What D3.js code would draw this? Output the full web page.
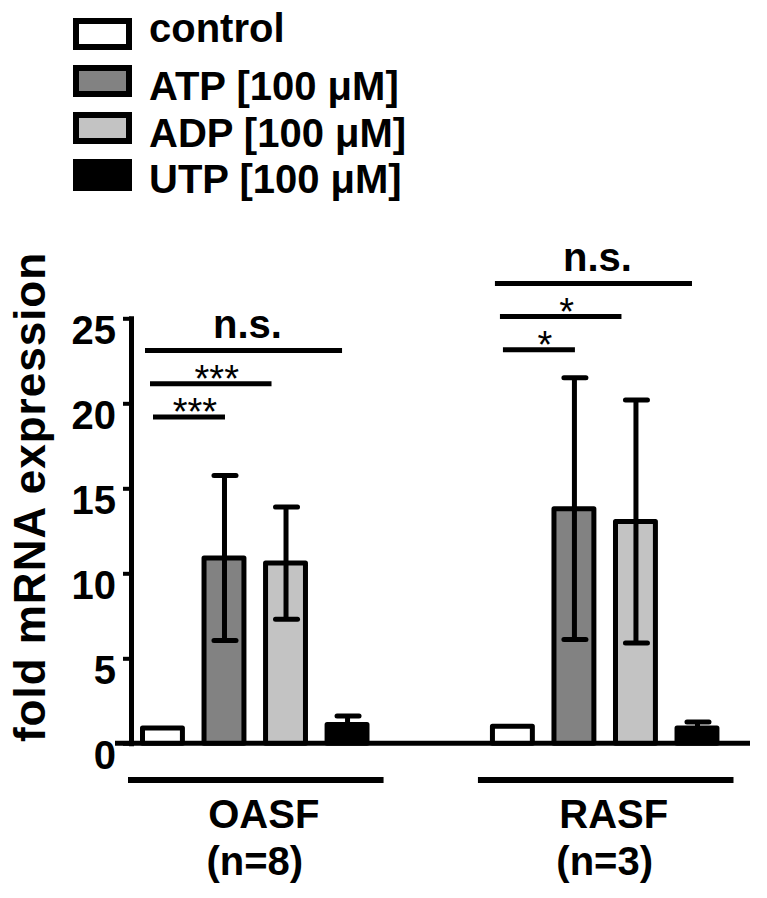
<!DOCTYPE html>
<html>
<head>
<meta charset="utf-8">
<script src="https://cdn.jsdelivr.net/npm/d3@7/dist/d3.min.js"></script>
<style>
  html, body { margin: 0; padding: 0; background: #fff; }
  svg { display: block; }
  text { font-family: "Liberation Sans", Arial, Helvetica, sans-serif; fill: #000; }
</style>
</head>
<body>
<svg id="chart" width="767" height="898"></svg>
<script>
// ---------------- data ----------------
const groups = ["OASF", "RASF"];
const groupN = ["(n=8)", "(n=3)"];
const series = ["control", "ATP [100 μM]", "ADP [100 μM]", "UTP [100 μM]"];
const seriesFill = ["#ffffff", "#828282", "#c3c3c3", "#000000"];
const oasfMeans = [0.9, 10.9, 10.6, 1.1];
const oasfErrors = [0, 4.85, 3.3, 0.5];
const rasfMeans = [1.0, 13.8, 13.05, 0.9];
const rasfErrors = [0, 7.7, 7.15, 0.35];
const yTicks = [0, 5, 10, 15, 20, 25];
const yLabel = "fold mRNA expression";
// significance: control vs target series
const sigTargets = ["UTP [100 μM]", "ADP [100 μM]", "ATP [100 μM]"];
const oasfSig = ["n.s.", "***", "***"];
const rasfSig = ["n.s.", "*", "*"];

// ---------------- layout ----------------
const svg = d3.select("#chart");
const FONT = 40;
const y = d3.scaleLinear().domain([0, 25]).range([743.3, 318.3]);
const x0 = d3.scaleBand().domain(groups).range([140, 719.5]).paddingInner(0.344).paddingOuter(0);
const x1 = d3.scaleBand().domain(series).range([0, 229.5]).paddingInner(0.27).paddingOuter(0);
const BW = x1.bandwidth();
const SW = 5;

const table = groups.map((g, gi) => ({
  group: g,
  n: groupN[gi],
  values: series.map((s, si) => ({
    series: s,
    fill: seriesFill[si],
    mean: gi === 0 ? oasfMeans[si] : rasfMeans[si],
    err: gi === 0 ? oasfErrors[si] : rasfErrors[si]
  })),
  sig: (gi === 0 ? oasfSig : rasfSig).map((lab, k) => ({ target: sigTargets[k], label: lab, k }))
}));

// ---------------- legend ----------------
const legend = svg.append("g");
const legDy = [8, 19, 19, 18];
series.forEach((s, i) => {
  const cy = 34 + 47 * i;
  legend.append("rect")
    .attr("x", 76).attr("y", cy - 13).attr("width", 53).attr("height", 26)
    .attr("fill", seriesFill[i]).attr("stroke", "#000").attr("stroke-width", 6);
  legend.append("text")
    .attr("x", 149).attr("y", cy + legDy[i])
    .attr("font-size", FONT).attr("font-weight", "bold")
    .text(s);
});

// ---------------- y axis ----------------
const yAxis = d3.axisLeft(y).tickValues(yTicks).tickSize(8).tickSizeOuter(0).tickPadding(7)
  .tickFormat(d3.format("d"));
const gy = svg.append("g").attr("transform", "translate(131,0)").call(yAxis);
gy.select(".domain").attr("stroke", "#000").attr("stroke-width", SW).attr("stroke-linecap", "square");
gy.selectAll(".tick line").attr("stroke", "#000").attr("stroke-width", 4);
gy.selectAll(".tick text")
  .attr("font-size", FONT).attr("font-weight", "bold").attr("fill", "#000")
  .attr("font-family", "Liberation Sans, Arial, sans-serif")
  .attr("dy", null).attr("y", 25);

svg.append("text")
  .attr("transform", `translate(45,${(250 + 744) / 2}) rotate(-90)`)
  .attr("text-anchor", "middle")
  .attr("font-size", 44).attr("font-weight", "bold")
  .attr("letter-spacing", 1)
  .text(yLabel);

// ---------------- x axis line ----------------
svg.append("line")
  .attr("x1", 115).attr("x2", 750).attr("y1", y(0)).attr("y2", y(0))
  .attr("stroke", "#000").attr("stroke-width", SW);

// ---------------- bars ----------------
const gGroups = svg.selectAll("g.grp").data(table).join("g")
  .attr("class", "grp")
  .attr("transform", d => `translate(${x0(d.group)},0)`);

gGroups.selectAll("rect.bar").data(d => d.values).join("rect")
  .attr("class", "bar")
  .attr("x", d => x1(d.series) + SW / 2)
  .attr("width", BW - SW)
  .attr("y", d => y(d.mean))
  .attr("height", d => y(0) - y(d.mean))
  .attr("fill", d => d.fill)
  .attr("stroke", "#000").attr("stroke-width", SW).attr("stroke-linejoin", "round");

// error bars
const eb = gGroups.selectAll("g.err").data(d => d.values.filter(v => v.err > 0)).join("g").attr("class", "err");
eb.append("line")
  .attr("x1", d => x1(d.series) + BW / 2 + 0.5).attr("x2", d => x1(d.series) + BW / 2 + 0.5)
  .attr("y1", d => y(d.mean + d.err)).attr("y2", d => y(Math.max(0, d.mean - d.err)))
  .attr("stroke", "#000").attr("stroke-width", SW);
eb.append("line")
  .attr("x1", d => x1(d.series) + BW / 2 - 10).attr("x2", d => x1(d.series) + BW / 2 + 12)
  .attr("y1", d => y(d.mean + d.err)).attr("y2", d => y(d.mean + d.err))
  .attr("stroke", "#000").attr("stroke-width", SW).attr("stroke-linecap", "round");
eb.append("line")
  .attr("x1", d => x1(d.series) + BW / 2 - 10).attr("x2", d => x1(d.series) + BW / 2 + 12)
  .attr("y1", d => y(d.mean - d.err)).attr("y2", d => y(d.mean - d.err))
  .attr("stroke", "#000").attr("stroke-width", SW).attr("stroke-linecap", "round");

// ---------------- significance ----------------
const sigTop = { OASF: 23.1, RASF: 27.05 };
const sigStep = 1.95;
const startOff = [5, 10, 13];
const endOff = [-5, -14, 1];
gGroups.each(function (d) {
  const g = d3.select(this);
  d.sig.forEach(s => {
    const lvl = y(sigTop[d.group] - sigStep * s.k);
    const xa = x1("control") + startOff[s.k];
    const xb = x1(s.target) + BW / 2 + endOff[s.k];
    g.append("line")
      .attr("x1", xa).attr("x2", xb).attr("y1", lvl).attr("y2", lvl)
      .attr("stroke", "#000").attr("stroke-width", SW);
    const isNS = s.label === "n.s.";
    g.append("text")
      .attr("x", (xa + xb) / 2 + (isNS ? 4 : 6))
      .attr("y", isNS ? lvl - 12.5 : lvl + 8)
      .attr("text-anchor", "middle")
      .attr("font-size", isNS ? FONT : 38)
      .attr("font-weight", isNS ? "bold" : "normal")
      .text(s.label);
  });
});

// ---------------- group labels ----------------
gGroups.append("line")
  .attr("x1", -12).attr("x2", x0.bandwidth() + 14)
  .attr("y1", 780).attr("y2", 780)
  .attr("stroke", "#000").attr("stroke-width", 6);
gGroups.append("text")
  .attr("x", x0.bandwidth() / 2 + 9).attr("y", 828)
  .attr("text-anchor", "middle").attr("font-size", FONT).attr("font-weight", "bold")
  .text(d => d.group);
gGroups.append("text")
  .attr("x", x0.bandwidth() / 2).attr("y", 875)
  .attr("text-anchor", "middle").attr("font-size", FONT).attr("font-weight", "bold")
  .text(d => d.n);
</script>
</body>
</html>
